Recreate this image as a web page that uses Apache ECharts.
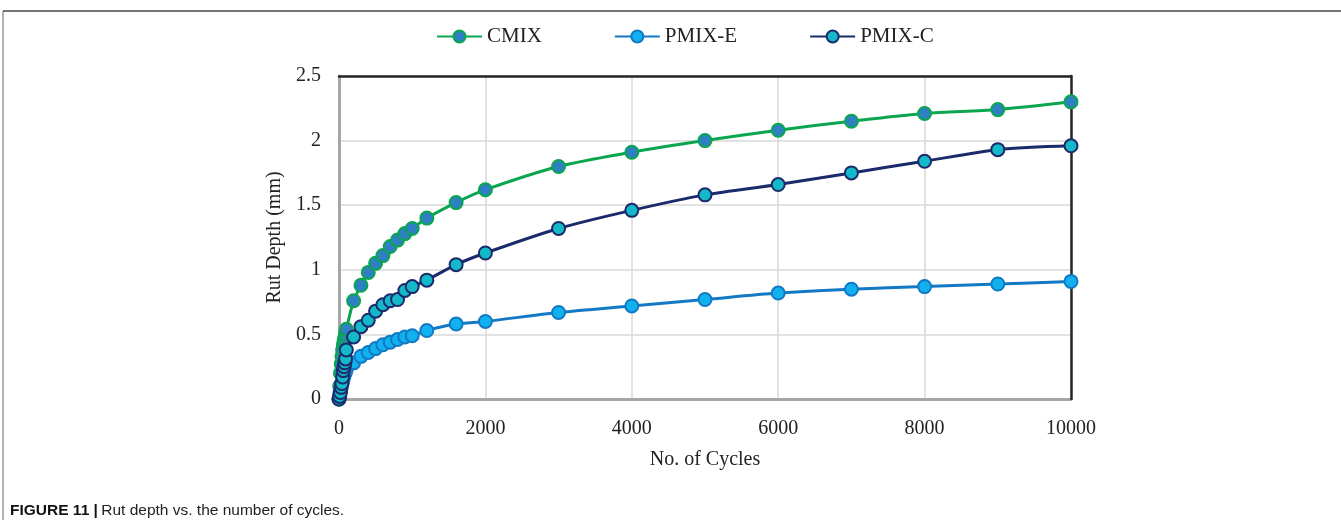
<!DOCTYPE html>
<html>
<head>
<meta charset="utf-8">
<script src="https://cdn.jsdelivr.net/npm/echarts@6/dist/echarts.min.js"></script>
<style>
  html, body { margin: 0; padding: 0; background: #fff; }
  #chart { width: 1341px; height: 527px; }
</style>
</head>
<body>
<div id="chart"></div>
<script>
// Number of load cycles at which rut depth was recorded
const cycles = [0, 10, 20, 30, 40, 50, 60, 70, 80, 90, 100,
  200, 300, 400, 500, 600, 700, 800, 900, 1000, 1200, 1600, 2000,
  3000, 4000, 5000, 6000, 7000, 8000, 9000, 10000];

// Rut depth (mm) per mixture
const cmix = [0, 0.10, 0.20, 0.27, 0.33, 0.38, 0.42, 0.45, 0.48, 0.51, 0.54,
  0.76, 0.88, 0.98, 1.05, 1.11, 1.18, 1.23, 1.28, 1.32, 1.40, 1.52, 1.62,
  1.80, 1.91, 2.00, 2.08, 2.15, 2.21, 2.24, 2.30];
const pmixE = [0, 0.04, 0.07, 0.10, 0.12, 0.14, 0.16, 0.18, 0.20, 0.21, 0.23,
  0.28, 0.33, 0.36, 0.39, 0.42, 0.44, 0.46, 0.48, 0.49, 0.53, 0.58, 0.60,
  0.67, 0.72, 0.77, 0.82, 0.85, 0.87, 0.89, 0.91];
const pmixC = [0, 0.02, 0.05, 0.09, 0.12, 0.17, 0.22, 0.25, 0.28, 0.31, 0.38,
  0.48, 0.56, 0.61, 0.68, 0.73, 0.76, 0.77, 0.84, 0.87, 0.92, 1.04, 1.13,
  1.32, 1.46, 1.58, 1.66, 1.75, 1.84, 1.93, 1.96];

const seriesNames = ['CMIX', 'PMIX-E', 'PMIX-C'];
const xTicks = { min: 0, max: 10000, interval: 2000 };
const yTicks = { min: 0, max: 2.5, interval: 0.5 };

const pairs = (ys) => cycles.map((c, i) => [c, ys[i]]);

const serif = '"Liberation Serif", "Times New Roman", serif';
const sans = '"Liberation Sans", Arial, sans-serif';
const labelStyle = { fontFamily: serif, fontSize: 20, color: '#222', margin: 18 };
const gridLine = { show: true, lineStyle: { color: '#d9d9d9', width: 1.5 } };

function lineSeries(name, ys, lineColor, fill, border, z) {
  return {
    name: name,
    type: 'line',
    data: pairs(ys),
    smooth: 0.3,
    symbol: 'circle',
    symbolSize: 13,
    z: z,
    lineStyle: { color: lineColor, width: 3 },
    itemStyle: { color: fill, borderColor: border, borderWidth: 2 },
    emphasis: { disabled: true },
    animation: false
  };
}

// Dark frame on the top and right sides of the plot area
function frameAxis(extra) {
  return Object.assign({
    type: 'value',
    axisLine: { show: true, onZero: false, lineStyle: { color: '#262626', width: 2.5 } },
    axisTick: { show: false },
    axisLabel: { show: false },
    splitLine: { show: false },
    z: 3
  }, extra);
}

const chart = echarts.init(document.getElementById('chart'), null, { renderer: 'canvas' });
chart.setOption({
  backgroundColor: '#ffffff',
  animation: false,
  legend: {
    top: 21,
    left: 431,
    itemGap: 72,
    itemWidth: 45,
    itemHeight: 15,
    textStyle: { fontFamily: serif, fontSize: 21, color: '#222' },
    data: seriesNames
  },
  grid: { left: 339, right: 270, top: 76, bottom: 128 },
  xAxis: [{
    type: 'value',
    min: xTicks.min, max: xTicks.max, interval: xTicks.interval,
    name: 'No. of Cycles',
    nameLocation: 'middle',
    nameGap: 51,
    nameTextStyle: { fontFamily: serif, fontSize: 20, color: '#222' },
    axisLine: { show: true, lineStyle: { color: '#a6a6a6', width: 3 } },
    axisTick: { show: false },
    axisLabel: Object.assign({}, labelStyle, { margin: 20, formatter: (v) => String(v) }),
    splitLine: gridLine,
    z: 2
  }, frameAxis({ position: 'top', min: xTicks.min, max: xTicks.max })],
  yAxis: [{
    type: 'value',
    min: yTicks.min, max: yTicks.max, interval: yTicks.interval,
    name: 'Rut Depth (mm)',
    nameLocation: 'middle',
    nameGap: 54,
    nameTextStyle: { fontFamily: serif, fontSize: 20, color: '#222' },
    axisLine: { show: true, lineStyle: { color: '#a6a6a6', width: 3 } },
    axisTick: { show: false },
    axisLabel: labelStyle,
    splitLine: gridLine,
    z: 2
  }, frameAxis({ position: 'right', min: yTicks.min, max: yTicks.max })],
  series: [
    lineSeries('CMIX', cmix, '#0aa64f', '#2f80c3', '#0aa64f', 4),
    lineSeries('PMIX-E', pmixE, '#1379c4', '#10b1ee', '#1379c4', 5),
    lineSeries('PMIX-C', pmixC, '#1b2a6b', '#14b9c9', '#1b2a6b', 6)
  ],
  graphic: [
    { type: 'line', shape: { x1: 3, y1: 11, x2: 1341, y2: 11 }, style: { stroke: '#444', lineWidth: 1.5 } },
    { type: 'line', shape: { x1: 3, y1: 11, x2: 3, y2: 520 }, style: { stroke: '#666', lineWidth: 1 } },
    {
      type: 'text', left: 10, top: 503,
      style: {
        rich: {
          b: { fontFamily: sans, fontWeight: 'bold', fontSize: 15.5, fill: '#111' },
          n: { fontFamily: sans, fontSize: 15.5, fill: '#222' }
        },
        text: '{b|FIGURE 11 |} {n|Rut depth vs. the number of cycles.}'
      }
    }
  ]
});
</script>
</body>
</html>
